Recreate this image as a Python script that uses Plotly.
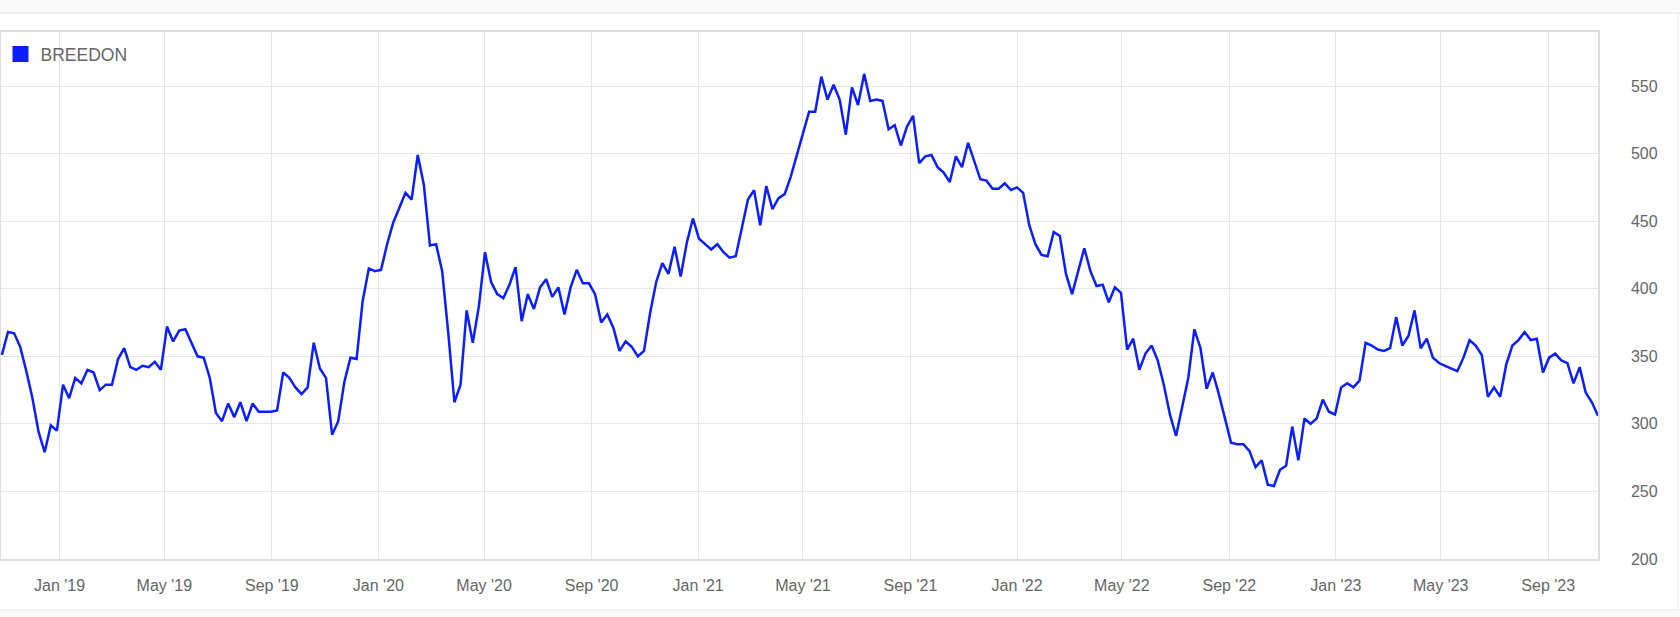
import pandas as pd
import plotly.graph_objects as go

# ---- data -------------------------------------------------------------
series_name = "BREEDON"
start_date = "2018-10-27"
values = [
    351, 368, 367, 357, 339, 319, 294, 279, 299, 295,
    329, 319, 334, 330, 340, 338, 325, 329, 329, 348,
    356, 342, 340, 343, 342, 346, 340, 372, 361, 369,
    370, 360, 350, 349, 334, 308, 302, 315, 305, 316,
    302, 315, 309, 309, 309, 310, 338, 334, 327, 322,
    327, 360, 341, 334, 292, 302, 331, 349, 348, 391,
    415, 413, 414, 433, 449, 460, 471, 466, 499, 477,
    432, 433, 413, 367, 316, 329, 384, 360, 387, 427,
    405, 396, 393, 403, 416, 376, 396, 385, 401, 407,
    394, 401, 381, 401, 414, 404, 404, 396, 375, 381,
    371, 354, 361, 357, 350, 354, 382, 405, 419, 411,
    431, 409, 434, 452, 437, 433, 429, 433, 427, 423,
    424, 445, 466, 473, 447, 476, 459, 467, 470, 483,
    500, 515, 531, 531, 557, 540, 551, 540, 514, 549,
    536, 559, 539, 540, 539, 518, 521, 506, 520, 528,
    493, 498, 499, 490, 486, 479, 498, 490, 508, 494,
    481, 480, 474, 474, 478, 473, 475, 471, 447, 433,
    425, 424, 442, 439, 411, 396, 412, 430, 413, 402,
    403, 390, 401, 397, 355, 363, 340, 352, 358, 347,
    329, 307, 291, 312, 334, 370, 356, 326, 338, 322,
    304, 286, 285, 285, 280, 268, 273, 255, 254, 266,
    269, 298, 273, 304, 300, 304, 318, 309, 307, 327,
    330, 327, 332, 360, 358, 355, 354, 356, 379, 358,
    365, 384, 356, 363, 349, 345, 343, 341, 339, 349,
    362, 358, 351, 320, 327, 320, 344, 358, 362, 368,
    362, 363, 338, 349, 352, 347, 345, 330, 342, 323,
    316, 306,
]
dates = pd.date_range(start_date, periods=len(values), freq="7D")

x_range = ["2018-10-26", "2023-10-28"]
y_range = [200, 590]
y_tick0 = 200
y_dtick = 50
x_tick0 = "2019-01-01"
x_dtick = "M4"

# ---- style --------------------------------------------------------------
W, H = 1680, 617
ML, MR, MT, MB = 1, 82, 32, 58
BLUE = "#0a1eff"
GRID = "#e6e6e6"
BORDER = "#dedede"
TEXT = "#666666"
FONT = "Helvetica Neue, Helvetica, Arial, Liberation Sans, sans-serif"

pw = W - ML - MR
ph = H - MT - MB


def px_x(p):
    return (p - ML) / pw


def px_y(p):
    return 1 - (p - MT) / ph


fig = go.Figure()
fig.add_trace(go.Scatter(
    x=dates, y=values, mode="lines", name=series_name,
    line=dict(color=BLUE, width=2.5), showlegend=False,
))
fig.add_trace(go.Scatter(
    x=[None], y=[None], mode="markers", name=series_name,
    marker=dict(symbol="square", size=16, color=BLUE), showlegend=True,
))

shapes = [
    dict(type="rect", xref="paper", yref="paper", x0=px_x(0), x1=px_x(W),
         y0=px_y(0), y1=px_y(13), fillcolor="#f9f9f9", line=dict(width=0), layer="below"),
    dict(type="line", xref="paper", yref="paper", x0=px_x(0), x1=px_x(W),
         y0=px_y(13), y1=px_y(13), line=dict(color="#eeeeee", width=1.5)),
    dict(type="rect", xref="paper", yref="paper", x0=px_x(0), x1=px_x(W),
         y0=px_y(610), y1=px_y(H), fillcolor="#f9f9f9", line=dict(width=0), layer="below"),
    dict(type="line", xref="paper", yref="paper", x0=px_x(0), x1=px_x(W),
         y0=px_y(610), y1=px_y(610), line=dict(color="#eeeeee", width=1.5)),
    dict(type="line", xref="paper", yref="paper", x0=px_x(1678), x1=px_x(1678),
         y0=px_y(13), y1=px_y(610), line=dict(color="#eeeeee", width=1.5)),
]

fig.update_layout(
    width=W, height=H,
    margin=dict(l=ML, r=MR, t=MT, b=MB, pad=0, autoexpand=False),
    paper_bgcolor="white", plot_bgcolor="white",
    font=dict(family=FONT, color=TEXT, size=16),
    shapes=shapes,
    showlegend=True,
    legend=dict(x=px_x(0.5), y=px_y(36), xanchor="left", yanchor="top",
                bgcolor="rgba(0,0,0,0)", font=dict(size=17.5, color=TEXT),
                itemwidth=30, borderwidth=0),
    hovermode="x",
)
fig.update_xaxes(
    type="date", range=x_range, tick0=x_tick0, dtick=x_dtick, automargin=False,
    tickformat="%b '%y", showgrid=True, gridcolor=GRID, gridwidth=1,
    showline=True, mirror=True, linecolor=BORDER, linewidth=1.5,
    ticks="outside", ticklen=11, tickcolor="rgba(0,0,0,0)",
    tickfont=dict(size=16, color=TEXT), zeroline=False,
)
fig.update_yaxes(
    side="right", range=y_range, tick0=y_tick0, dtick=y_dtick, automargin=False,
    showgrid=True, gridcolor=GRID, gridwidth=1,
    showline=True, mirror=True, linecolor=BORDER, linewidth=1.5,
    ticks="outside", ticklen=28, tickcolor="rgba(0,0,0,0)",
    tickfont=dict(size=16, color=TEXT), zeroline=False,
)

fig.write_html(
    "out.html",
    config={"displayModeBar": False},
    post_script="document.body.style.margin='0px';",
)
